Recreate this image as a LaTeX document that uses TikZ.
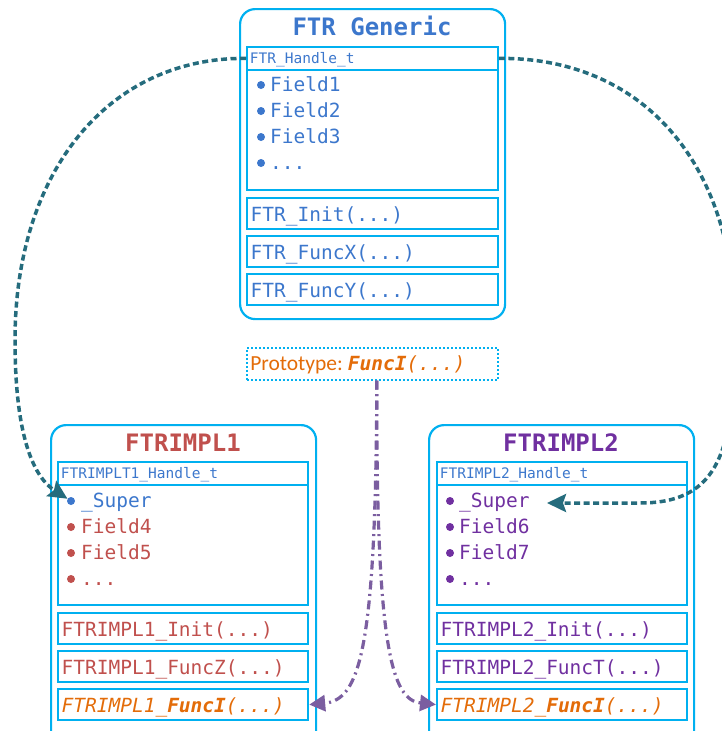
\documentclass[tikz,border=0pt]{standalone}
\usepackage{fontspec}
\setmonofont{DejaVu Sans Mono}
\newfontfamily\protofont{Carlito}
\usetikzlibrary{arrows.meta}

\definecolor{frame}{HTML}{00B0F0}
\definecolor{ftrblue}{HTML}{3C77CC}
\definecolor{implred}{HTML}{C0504D}
\definecolor{implpurple}{HTML}{7030A0}
\definecolor{protoorange}{HTML}{E36C09}
\definecolor{superlink}{HTML}{256C7D}
\definecolor{protolink}{HTML}{7B5EA0}

\tikzset{
  outerbox/.style={draw=frame, line width=2.2pt, rounded corners=15pt,
    anchor=north west, inner sep=0pt},
  handlebox/.style={draw=frame, line width=2.2pt, anchor=north west,
    inner sep=0pt, minimum width=251pt, minimum height=143pt},
  hdrbox/.style={draw=frame, line width=1.8pt, anchor=north west,
    inner xsep=3pt, inner ysep=0pt, text width=245pt, align=left,
    text height=17pt, text depth=6pt, text=ftrblue,
    font=\ttfamily\fontsize{14.5}{16}\selectfont},
  fnbox/.style={draw=frame, line width=2.2pt, anchor=north west,
    inner xsep=3.5pt, inner ysep=0pt, text width=244pt, align=left,
    text height=23pt, text depth=8pt,
    font=\ttfamily\fontsize{19.5}{22}\selectfont},
  protobox/.style={draw=frame, line width=1.6pt, dash pattern=on 2pt off 2pt,
    anchor=north west, inner xsep=3.5pt, inner ysep=0pt, text width=244pt,
    align=left, text height=23pt, text depth=9pt},
  field/.style={anchor=base west, inner sep=0pt,
    font=\ttfamily\fontsize{19.5}{22}\selectfont},
  bulletdot/.style={circle, fill, inner sep=0pt, minimum size=8pt},
  boxtitle/.style={anchor=base, inner sep=0pt,
    font=\ttfamily\bfseries\fontsize{24}{28}\selectfont},
  superarrow/.style={draw=superlink, line width=3.5pt,
    dash pattern=on 6pt off 3.5pt,
    -{Stealth[length=19pt,width=18pt,inset=3pt]}},
  protoarrow/.style={draw=protolink, line width=3.2pt,
    dash pattern=on 9pt off 4.5pt on 2pt off 4.5pt,
    -{Triangle[length=16pt,width=16pt]}},
}

\newcommand{\funcI}[1]{\textcolor{protoorange}{\itshape #1\textbf{FuncI}(...)}}
\newcommand{\moreitems}{...}

\begin{document}
\begin{tikzpicture}[x=1pt, y=-1pt]
\useasboundingbox (0,0) rectangle (721,731);

% ---------- FTR Generic ----------
\node[outerbox, minimum width=265pt, minimum height=310pt] (g) at (239,8) {};
\node[boxtitle, text=ftrblue] (g-title) at (372,35) {FTR Generic};
\node[handlebox] (g-handle) at (246,46) {};
\node[hdrbox] (g-hdr) at (246,46) {FTR\_Handle\_t};
\foreach \i/\t [count=\k from 0] in {1/Field1, 2/Field2, 3/Field3, 4/\moreitems} {
  \node[bulletdot, fill=ftrblue] (g-b\i) at (261,85+26*\k) {};
  \node[field, text=ftrblue] (g-f\i) at (270,91+26*\k) {\t};
}
\node[fnbox, text=ftrblue] (g-init) at (246,197) {FTR\_Init(...)};
\node[fnbox, text=ftrblue] (g-fx) at (246,235) {FTR\_FuncX(...)};
\node[fnbox, text=ftrblue] (g-fy) at (246,273) {FTR\_FuncY(...)};

% ---------- prototype ----------
\node[protobox] (proto) at (246,347)
  {{\protofont\fontsize{21.5}{22}\selectfont\color{protoorange}Prototype: }%
   {\ttfamily\fontsize{19.5}{22}\selectfont\funcI{}}};

% ---------- FTRIMPL1 ----------
\node[outerbox, minimum width=265pt, minimum height=330pt] (i1) at (50,424) {};
\node[boxtitle, text=implred] (i1-title) at (183,451) {FTRIMPL1};
\node[handlebox, minimum width=250pt] (i1-handle) at (57,461) {};
\node[hdrbox, text width=244pt] (i1-hdr) at (57,461) {FTRIMPLT1\_Handle\_t};
\node[bulletdot, fill=ftrblue] (i1-b1) at (71,501) {};
\node[field, text=ftrblue] (i1-super) at (81,507) {\_Super};
\foreach \i/\t [count=\k from 1] in {2/Field4, 3/Field5, 4/\moreitems} {
  \node[bulletdot, fill=implred] (i1-b\i) at (71,501+26*\k) {};
  \node[field, text=implred] (i1-f\i) at (81,507+26*\k) {\t};
}
\node[fnbox, text=implred, text width=243pt] (i1-init) at (57,612) {FTRIMPL1\_Init(...)};
\node[fnbox, text=implred, text width=243pt] (i1-fz) at (57,650) {FTRIMPL1\_FuncZ(...)};
\node[fnbox, text width=243pt] (i1-fi) at (57,688) {\funcI{FTRIMPL1\_}};

% ---------- FTRIMPL2 ----------
\node[outerbox, minimum width=265pt, minimum height=330pt] (i2) at (428,424) {};
\node[boxtitle, text=implpurple] (i2-title) at (561,451) {FTRIMPL2};
\node[handlebox, minimum width=250pt] (i2-handle) at (436,461) {};
\node[hdrbox, text width=244pt] (i2-hdr) at (436,461) {FTRIMPL2\_Handle\_t};
\foreach \i/\t [count=\k from 0] in {1/\_Super, 2/Field6, 3/Field7, 4/\moreitems} {
  \node[bulletdot, fill=implpurple] (i2-b\i) at (450,501+26*\k) {};
  \node[field, text=implpurple] (i2-f\i) at (459,507+26*\k) {\t};
}
\node[fnbox, text=implpurple, text width=243pt] (i2-init) at (436,612) {FTRIMPL2\_Init(...)};
\node[fnbox, text=implpurple, text width=243pt] (i2-ft) at (436,650) {FTRIMPL2\_FuncT(...)};
\node[fnbox, text width=243pt] (i2-fi) at (436,688) {\funcI{FTRIMPL2\_}};

% ---------- inheritance links (_Super) ----------
\coordinate (i2-in) at (547,503);
\draw[superarrow] (g-hdr.west) .. controls (110,57) and (15,170) .. (15,340)
  .. controls (15,440) and (35,478) .. (i1-b1);
\draw[superarrow] (g-hdr.east) .. controls (640,57) and (735,160) .. (735,330)
  .. controls (735,450) and (720,503) .. (640,503) -- (i2-in);

% ---------- prototype implementations ----------
\draw[protoarrow] ([xshift=4.5pt]proto.south) .. controls (376,650) and (360,700) .. (i1-fi.east);
\draw[protoarrow] ([xshift=4.5pt]proto.south) .. controls (376,650) and (392,700) .. (i2-fi.west);
\end{tikzpicture}
\end{document}
